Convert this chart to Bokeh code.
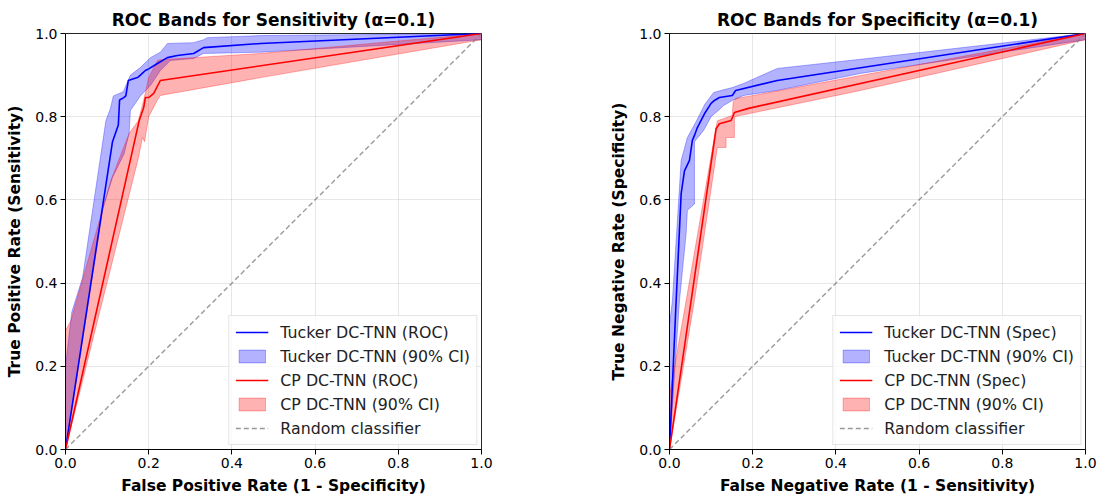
from bokeh.plotting import figure
from bokeh.layouts import row
from bokeh.models import Range1d, FixedTicker, Legend, LegendItem
from bokeh.embed import file_html
from bokeh.resources import INLINE

# ---------------- data: left panel (sensitivity) ----------------
sens_tucker_fpr = [0, 0.113, 0.127, 0.13, 0.14, 0.145, 0.151, 0.16, 0.173, 0.18,
                   0.192, 0.2, 0.221, 0.245, 0.269, 0.308, 0.332, 0.469, 1.0]
sens_tucker_tpr = [0, 0.74, 0.78, 0.84, 0.846, 0.85, 0.887, 0.89, 0.894, 0.90,
                   0.911, 0.915, 0.928, 0.942, 0.947, 0.952, 0.966, 0.976, 1.0]
sens_tucker_up_x = [0, 0.015, 0.041, 0.097, 0.108, 0.115, 0.139, 0.156, 0.18, 0.204, 0.228,
                    0.245, 0.308, 0.332, 0.341, 0.469, 1.0]
sens_tucker_upper = [0.20, 0.33, 0.413, 0.79, 0.82, 0.85, 0.86, 0.90, 0.918, 0.942, 0.955,
                     0.976, 0.978, 0.985, 0.99, 0.995, 1.0]
sens_tucker_lo_x = [0, 0.09, 0.113, 0.141, 0.153, 0.156, 0.18, 0.204, 0.228, 0.252, 0.308,
                    0.332, 0.469, 1.0]
sens_tucker_lower = [0.0, 0.58, 0.654, 0.711, 0.76, 0.815, 0.85, 0.875, 0.911, 0.935, 0.94,
                     0.952, 0.955, 0.985]

sens_cp_fpr = [0, 0.177, 0.188, 0.192, 0.2, 0.212, 0.228, 1.0]
sens_cp_tpr = [0, 0.79, 0.822, 0.846, 0.846, 0.856, 0.887, 1.0]
sens_cp_up_x = [0, 0.013, 0.109, 0.153, 0.175, 0.188, 0.2, 0.221, 0.228, 0.469, 1.0]
sens_cp_upper = [0.286, 0.31, 0.647, 0.76, 0.79, 0.84, 0.894, 0.935, 0.937, 0.952, 1.0]
sens_cp_lo_x = [0, 0.077, 0.175, 0.185, 0.19, 0.2, 0.221, 0.228, 0.469, 1.0]
sens_cp_lower = [0.0, 0.31, 0.70, 0.75, 0.74, 0.80, 0.84, 0.851, 0.894, 0.985]

# ---------------- data: right panel (specificity) ----------------
spec_tucker_fnr = [0, 0.016, 0.028, 0.036, 0.048, 0.055, 0.06, 0.067, 0.084, 0.1, 0.108,
                   0.12, 0.151, 0.159, 0.259, 1.0]
spec_tucker_tnr = [0, 0.358, 0.615, 0.67, 0.695, 0.743, 0.755, 0.774, 0.807, 0.832, 0.839,
                   0.846, 0.851, 0.863, 0.887, 1.0]
spec_tucker_up_x = [0, 0.007, 0.028, 0.043, 0.065, 0.085, 0.106, 0.123, 0.151, 0.178, 0.259,
                    0.459, 1.0]
spec_tucker_upper = [0.30, 0.358, 0.695, 0.75, 0.79, 0.83, 0.858, 0.863, 0.87, 0.88, 0.916,
                     0.938, 1.0]
spec_tucker_lo_x = [0, 0.024, 0.04, 0.043, 0.06, 0.06, 0.082, 0.1, 0.123, 0.13, 0.151, 0.178,
                    0.259, 0.459, 1.0]
spec_tucker_lower = [0.0, 0.358, 0.519, 0.575, 0.59, 0.74, 0.767, 0.80, 0.82, 0.827, 0.839,
                     0.851, 0.863, 0.904, 0.985]

spec_cp_fnr = [0, 0.112, 0.12, 0.148, 0.152, 0.156, 0.19, 1.0]
spec_cp_tnr = [0, 0.771, 0.783, 0.791, 0.80, 0.81, 0.82, 1.0]
spec_cp_up_x = [0, 0.04, 0.112, 0.115, 0.151, 0.153, 0.159, 0.195, 0.459, 1.0]
spec_cp_upper = [0.13, 0.358, 0.775, 0.79, 0.803, 0.835, 0.844, 0.85, 0.899, 1.0]
spec_cp_lo_x = [0, 0.06, 0.115, 0.136, 0.136, 0.156, 0.156, 0.195, 0.459, 1.0]
spec_cp_lower = [0.0, 0.358, 0.726, 0.726, 0.75, 0.75, 0.80, 0.808, 0.863, 0.985]

diag = [0.0, 1.0]
ticks = [0.0, 0.2, 0.4, 0.6, 0.8, 1.0]
tick_labels = ["0.0", "0.2", "0.4", "0.6", "0.8", "1.0"]

FONT = "DejaVu Sans"


def make_panel(width, left, right, title, xlabel, ylabel, curves, names):
    p = figure(width=width, height=500, output_backend="svg", toolbar_location=None,
               x_range=Range1d(0, 1), y_range=Range1d(0, 1),
               min_border_left=left, min_border_right=right,
               min_border_top=33, min_border_bottom=51)
    p.title.text = title
    p.title.align = "center"
    p.title.text_font = FONT
    p.title.text_font_size = "17px"
    p.title.text_font_style = "bold"
    p.title.text_color = "black"
    p.title.standoff = 8
    p.outline_line_color = "black"
    p.outline_line_width = 1
    p.outline_line_alpha = 0.85
    for ax in (p.xaxis[0], p.yaxis[0]):
        ax.ticker = FixedTicker(ticks=ticks)
        ax.major_label_overrides = {t: l for t, l in zip(ticks, tick_labels)}
        ax.major_label_text_font = FONT
        ax.major_label_text_font_size = "14px"
        ax.major_label_text_color = "black"
        ax.axis_label_text_font = FONT
        ax.axis_label_text_font_size = "15.5px"
        ax.axis_label_text_font_style = "bold"
        ax.axis_label_text_color = "black"
        ax.axis_line_color = "black"
        ax.axis_line_alpha = 0.85
        ax.major_tick_line_color = "black"
        ax.major_tick_out = 5
        ax.major_tick_in = 0
        ax.minor_tick_line_color = None
        ax.major_label_standoff = 3
    p.xaxis.axis_label = xlabel
    p.yaxis.axis_label = ylabel
    p.xaxis.axis_label_standoff = 6
    p.yaxis.axis_label_standoff = 8
    p.grid.ticker = FixedTicker(ticks=ticks)
    p.grid.grid_line_color = "#b0b0b0"
    p.grid.grid_line_alpha = 0.3

    (tx, ty, tux, tu, tlx, tl_), (cx, cy, cux, cu, clx, cl_) = curves
    tb = p.patch(tux + tlx[::-1], tu + tl_[::-1], fill_color="blue", fill_alpha=0.3,
                 line_color="blue", line_alpha=0.3, line_width=1)
    cb = p.patch(cux + clx[::-1], cu + cl_[::-1], fill_color="red", fill_alpha=0.3,
                 line_color="red", line_alpha=0.3, line_width=1)
    tl = p.line(tx, ty, line_color="blue", line_width=1.6)
    cl = p.line(cx, cy, line_color="red", line_width=1.6)
    dl = p.line(diag, diag, line_color="gray", line_alpha=0.8, line_width=1.4, line_dash="5 3")

    legend = Legend(items=[
        LegendItem(label=names[0], renderers=[tl]),
        LegendItem(label=names[1], renderers=[tb]),
        LegendItem(label=names[2], renderers=[cl]),
        LegendItem(label=names[3], renderers=[cb]),
        LegendItem(label=names[4], renderers=[dl]),
    ], location="bottom_right")
    legend.margin = 4
    legend.padding = 6
    legend.spacing = 4
    legend.label_text_font = FONT
    legend.label_text_font_size = "15.8px"
    legend.label_text_color = "#222222"
    legend.label_height = 20
    legend.glyph_height = 16
    legend.glyph_width = 33
    legend.label_standoff = 12
    legend.border_line_color = "#cccccc"
    legend.border_line_width = 1
    legend.background_fill_alpha = 0.8
    p.add_layout(legend, "center")
    return p


p1 = make_panel(550, 65, 69, "ROC Bands for Sensitivity (α=0.1)",
                "False Positive Rate (1 - Specificity)", "True Positive Rate (Sensitivity)",
                [(sens_tucker_fpr, sens_tucker_tpr, sens_tucker_up_x, sens_tucker_upper,
                  sens_tucker_lo_x, sens_tucker_lower),
                 (sens_cp_fpr, sens_cp_tpr, sens_cp_up_x, sens_cp_upper,
                  sens_cp_lo_x, sens_cp_lower)],
                ["Tucker DC-TNN (ROC)", "Tucker DC-TNN (90% CI)", "CP DC-TNN (ROC)",
                 "CP DC-TNN (90% CI)", "Random classifier"])
p2 = make_panel(549, 119, 14, "ROC Bands for Specificity (α=0.1)",
                "False Negative Rate (1 - Sensitivity)", "True Negative Rate (Specificity)",
                [(spec_tucker_fnr, spec_tucker_tnr, spec_tucker_up_x, spec_tucker_upper,
                  spec_tucker_lo_x, spec_tucker_lower),
                 (spec_cp_fnr, spec_cp_tnr, spec_cp_up_x, spec_cp_upper,
                  spec_cp_lo_x, spec_cp_lower)],
                ["Tucker DC-TNN (Spec)", "Tucker DC-TNN (90% CI)", "CP DC-TNN (Spec)",
                 "CP DC-TNN (90% CI)", "Random classifier"])

layout = row(p1, p2)
open("out.html", "w").write(file_html(layout, INLINE))
